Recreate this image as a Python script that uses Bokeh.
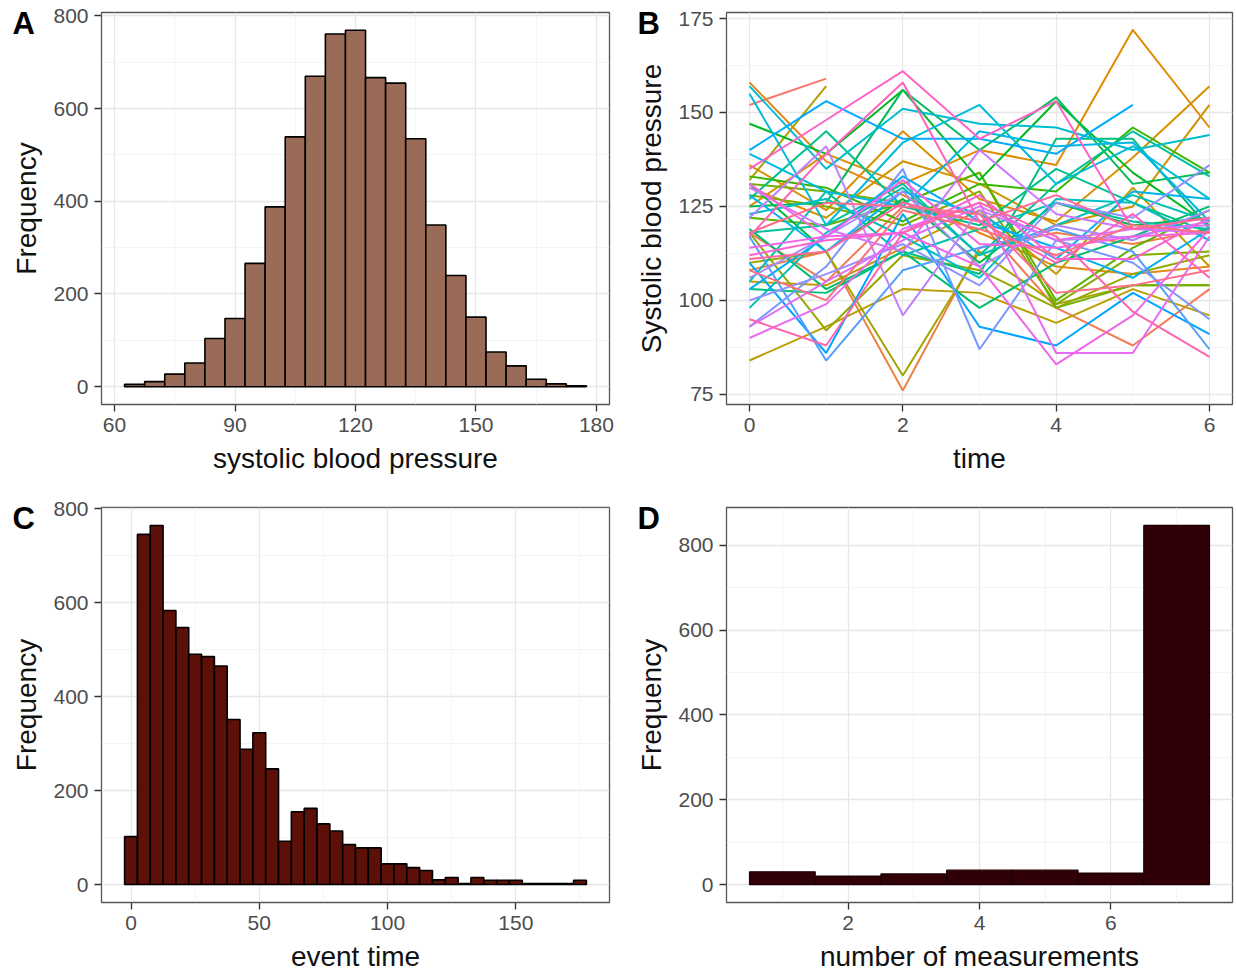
import math
from bokeh.plotting import figure
from bokeh.layouts import column, row
from bokeh.models import FixedTicker, Range1d, Title
from bokeh.embed import file_html
from bokeh.resources import INLINE

# ---------------- data ----------------
# Panel A: histogram of systolic blood pressure (bin centres, binwidth 5)
sbp_bins = [65, 70, 75, 80, 85, 90, 95, 100, 105, 110, 115, 120, 125, 130,
            135, 140, 145, 150, 155, 160, 165, 170, 175]
sbp_counts = [5, 11, 27, 51, 104, 147, 266, 388, 539, 670, 761, 769, 667, 655,
              535, 349, 240, 150, 75, 45, 16, 6, 2]

# Panel B: longitudinal systolic blood pressure per subject
times = [0, 1, 2, 3, 4, 5, 6]
subject_sbp = [
    [152, 159],
    [118, 105, 125, 121, 98, 88, 103],
    [108, 113, 76, 114, 118, 115, 119],
    [158, 137, 128, 118, 109, 107, 109],
    [125, 139, 131, 140, 136, 172, 146],
    [136, 124, 145, 127, 121, 138, 157],
    [130, 122, 137, 131, 120, 125, 152],
    [105, 104, 114, 124, 107, 130, 109],
    [84, 93, 103, 102, 94, 103, 96],
    [132, 157],
    [110, 113, 80, 113, 99, 104, 104],
    [118, 92, 112, 108, 98, 107, 112],
    [128, 125, 120, 129, 99, 112, 113],
    [131, 129, 126, 134, 98, 104, 104],
    [122, 120, 126, 134, 100, 114, 124],
    [133, 130, 121, 131, 129, 146, 134],
    [147, 139, 156, 132, 153, 134, 120],
    [131, 113, 127, 110, 126, 120, 122],
    [125, 126, 156, 140, 154, 131, 134],
    [119, 103, 113, 98, 110, 117, 125],
    [103, 102, 113, 107, 143, 143, 119],
    [127, 145, 125, 120, 135, 126, 118],
    [118, 120, 131, 112, 131, 145, 133],
    [105, 129, 112, 119, 126, 121, 119],
    [98, 118, 130, 112, 120, 128, 121],
    [123, 127, 117, 106, 127, 126, 116],
    [157, 135, 151, 147, 146, 140, 144],
    [155, 120, 142, 152, 131, 141, 127],
    [139, 129, 125, 145, 141, 142, 121],
    [128, 113, 129, 123, 111, 129, 127],
    [103, 117, 133, 121, 114, 106, 119],
    [140, 153, 143, 143, 139, 152],
    [110, 86, 123, 93, 88, 102, 91],
    [117, 84, 108, 114, 119, 113, 87],
    [93, 109, 135, 87, 116, 110, 95],
    [100, 107, 115, 104, 126, 122, 136],
    [106, 117, 129, 109, 120, 116, 124],
    [122, 141, 96, 124, 116, 117, 121],
    [130, 119, 113, 140, 123, 119, 118],
    [93, 105, 116, 125, 116, 119, 120],
    [90, 99, 119, 126, 86, 86, 117],
    [114, 117, 118, 109, 83, 96, 119],
    [131, 117, 132, 115, 114, 117, 118],
    [112, 116, 118, 128, 111, 111, 122],
    [135, 148, 161, 143, 153, 119, 122],
    [117, 139, 158, 121, 110, 123, 106],
    [95, 88, 118, 126, 117, 97, 85],
    [111, 113, 126, 121, 128, 119, 122],
    [118, 126, 125, 123, 102, 104, 108],
    [108, 100, 124, 119, 112, 120, 118],
]

# Panel C: histogram of event time (bin centres, binwidth 5)
event_bins = [0, 5, 10, 15, 20, 25, 30, 35, 40, 45, 50, 55, 60, 65, 70, 75, 80,
              85, 90, 95, 100, 105, 110, 115, 120, 125, 130, 135, 140, 145, 150,
              155, 160, 165, 170, 175]
event_counts = [102, 745, 764, 583, 547, 490, 485, 465, 351, 288, 323, 246, 92,
                155, 162, 129, 114, 85, 78, 78, 44, 44, 36, 30, 10, 15, 2, 15,
                9, 9, 9, 2, 2, 2, 2, 9]

# Panel D: number of measurements per subject
n_meas = [1, 2, 3, 4, 5, 6, 7]
n_meas_counts = [30, 20, 25, 34, 34, 27, 847]

# ---------------- style helpers ----------------
FONT = "Liberation Sans"


def hue_pal(n, l=65, c=100):
    """ggplot2-like hue palette (HCL polar LUV -> sRGB)."""
    Xn, Yn, Zn = 95.047, 100.0, 108.883
    un = 4 * Xn / (Xn + 15 * Yn + 3 * Zn)
    vn = 9 * Yn / (Xn + 15 * Yn + 3 * Zn)
    out = []
    for i in range(n):
        h = math.radians(15 + 360.0 * i / n)
        U, V = c * math.cos(h), c * math.sin(h)
        Y = Yn * ((l + 16) / 116.0) ** 3
        u = U / (13 * l) + un
        v = V / (13 * l) + vn
        X = 9.0 * Y * u / (4 * v)
        Z = -X / 3.0 - 5 * Y + 3 * Y / v
        X, Y, Z = X / 100, Y / 100, Z / 100
        rgb = [3.2404542 * X - 1.5371385 * Y - 0.4985314 * Z,
               -0.9692660 * X + 1.8760108 * Y + 0.0415560 * Z,
               0.0556434 * X - 0.2040259 * Y + 1.0572252 * Z]
        res = []
        for ch in rgb:
            ch = 12.92 * ch if ch <= 0.0031308 else 1.055 * ch ** (1 / 2.4) - 0.055
            res.append(int(round(max(0, min(1, ch)) * 255)))
        out.append("#%02x%02x%02x" % tuple(res))
    return out


def make_fig(width, height, xr, yr, bl, br, bt, bb):
    p = figure(width=width, height=height, x_range=Range1d(*xr), y_range=Range1d(*yr),
               output_backend="svg", toolbar_location=None, tools="")
    p.min_border_left = bl
    p.min_border_right = br
    p.min_border_top = bt
    p.min_border_bottom = bb
    p.outline_line_color = "#555555"
    p.outline_line_width = 1.3
    p.background_fill_color = "white"
    p.border_fill_color = "white"
    return p


def style(p, xticks, xminor, yticks, yminor, xlabel, ylabel):
    xt = FixedTicker(ticks=xticks, minor_ticks=xminor)
    yt = FixedTicker(ticks=yticks, minor_ticks=yminor)
    p.xaxis.ticker = xt
    p.yaxis.ticker = yt
    p.xgrid.ticker = xt
    p.ygrid.ticker = yt
    for g in (p.xgrid, p.ygrid):
        g.grid_line_color = "#e6e6e6"
        g.grid_line_width = 1.3
        g.minor_grid_line_color = "#f1f1f1"
        g.minor_grid_line_width = 0.8
    for ax in (p.xaxis, p.yaxis):
        ax.axis_line_color = None
        ax.major_tick_line_color = "#333333"
        ax.major_tick_line_width = 1.3
        ax.major_tick_out = 7
        ax.major_tick_in = 0
        ax.minor_tick_line_color = None
        ax.major_label_text_font = FONT
        ax.major_label_text_font_size = "21px"
        ax.major_label_text_color = "#4d4d4d"
        ax.major_label_standoff = 6
        ax.axis_label_text_font = FONT
        ax.axis_label_text_font_size = "28px"
        ax.axis_label_text_font_style = "normal"
        ax.axis_label_text_color = "#111111"
        ax.axis_label_standoff = 8
    p.xaxis.axis_label = xlabel
    p.yaxis.axis_label = ylabel


def panel_label(p, text, offset, standoff):
    # panel tag drawn in the top side panel, shifted left over the y-axis area
    p.add_layout(Title(text=text, align="left", offset=offset, standoff=standoff,
                       vertical_align="bottom", text_font=FONT, text_font_size="31px",
                       text_font_style="bold", text_color="black"), "above")


W = 618
H = 487

# ---------------- Panel A ----------------
pA = make_fig(W, H, (56.75, 183.25), (-38.45, 807.45), 101, 9, 12, 83)
style(pA, [60, 90, 120, 150, 180], [75, 105, 135, 165],
      [0, 200, 400, 600, 800], [100, 300, 500, 700],
      "systolic blood pressure", "Frequency")
pA.vbar(x=sbp_bins, width=5, top=sbp_counts, bottom=0,
        fill_color="#9a6b57", line_color="black", line_width=1.6)
panel_label(pA, "A", -89, -56)

# ---------------- Panel B ----------------
pB = make_fig(W, H, (-0.3, 6.3), (72.3, 176.6), 108, 4, 12, 83)
style(pB, [0, 2, 4, 6], [1, 3, 5],
      [75, 100, 125, 150, 175], [87.5, 112.5, 137.5, 162.5],
      "time", "Systolic blood pressure")
cols = hue_pal(len(subject_sbp))
xs = [times[:len(s)] for s in subject_sbp]
pB.multi_line(xs=xs, ys=subject_sbp, line_color=cols, line_width=2.0)
panel_label(pB, "B", -89, -56)

# ---------------- Panel C ----------------
pC = make_fig(W, H, (-11.5, 186.5), (-38.2, 802.2), 101, 9, 20, 72)
style(pC, [0, 50, 100, 150], [25, 75, 125, 175],
      [0, 200, 400, 600, 800], [100, 300, 500, 700],
      "event time", "Frequency")
pC.vbar(x=event_bins, width=5, top=event_counts, bottom=0,
        fill_color="#5c1008", line_color="black", line_width=1.6)
panel_label(pC, "C", -89, -56)

# ---------------- Panel D ----------------
pD = make_fig(W, H, (0.15, 7.85), (-42.35, 889.35), 108, 4, 20, 72)
style(pD, [2, 4, 6], [1, 3, 5, 7],
      [0, 200, 400, 600, 800], [100, 300, 500, 700],
      "number of measurements", "Frequency")
pD.vbar(x=n_meas, width=1, top=n_meas_counts, bottom=0,
        fill_color="#300006", line_color="#1a0003", line_width=1.2)
panel_label(pD, "D", -89, -56)

layout = column(row(pA, pB), row(pC, pD))
open("out.html", "w").write(file_html(layout, INLINE))
